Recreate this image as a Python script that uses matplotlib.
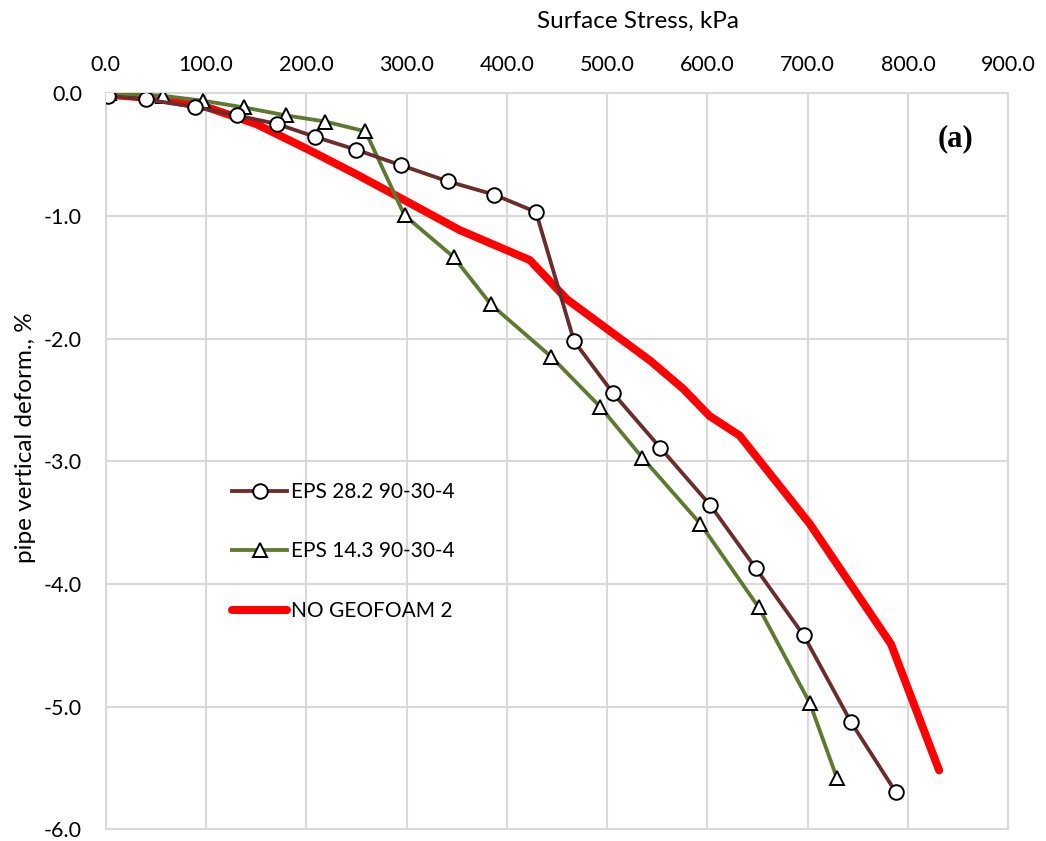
import matplotlib.pyplot as plt
import numpy as np

# EPS 28.2 90-30-4
x_eps28 = [2, 40, 89, 131, 171, 209, 250, 294, 341, 387, 429, 467, 506, 553, 603, 648, 696, 743, 788]
y_eps28 = [-0.02, -0.05, -0.11, -0.18, -0.25, -0.355, -0.46, -0.585, -0.717, -0.825, -0.967,
           -2.02, -2.446, -2.89, -3.36, -3.87, -4.42, -5.125, -5.70]

# EPS 14.3 90-30-4
x_eps14 = [3, 57, 97, 138, 180, 219, 259, 298, 347, 384, 444, 493, 535, 593, 651, 702, 729]
y_eps14 = [0.0, -0.02, -0.06, -0.115, -0.18, -0.23, -0.31, -0.995, -1.335, -1.72, -2.146,
           -2.555, -2.97, -3.51, -4.19, -4.97, -5.58]

# NO GEOFOAM 2
x_nogeo = [0, 50, 100, 150, 200, 250, 300, 353, 423, 460, 543, 576, 602, 632, 702, 783, 831]
y_nogeo = [-0.01, -0.04, -0.11, -0.25, -0.45, -0.66, -0.88, -1.115, -1.36, -1.68, -2.18,
           -2.41, -2.63, -2.79, -3.51, -4.49, -5.52]

plt.rcParams['font.family'] = ['Lato', 'DejaVu Sans']

fig = plt.figure(figsize=(10.46, 8.41), dpi=100)
ax = fig.add_axes([0.101, 0.014, 0.863, 0.875])

ax.plot(x_nogeo, y_nogeo, color='#ff0000', lw=5.75, solid_capstyle='round',
        label='NO GEOFOAM 2', zorder=2)
ax.plot(x_eps14, y_eps14, color='#5e7a32', lw=2.75, marker='^', ms=10.5, mfc='white',
        mec='black', mew=1.4, label='EPS 14.3 90-30-4', zorder=3)
ax.plot(x_eps28, y_eps28, color='#6b2d2b', lw=2.75, marker='o', ms=10.5, mfc='white',
        mec='black', mew=1.4, label='EPS 28.2 90-30-4', zorder=4)

ax.set_xlim(0, 900)
ax.set_ylim(-6, 0)
ax.set_xticks(np.arange(0, 901, 100))
ax.set_yticks(np.arange(-6, 0.1, 1))
ax.xaxis.set_major_formatter(plt.FormatStrFormatter('%.1f'))
ax.yaxis.set_major_formatter(plt.FormatStrFormatter('%.1f'))
ax.xaxis.tick_top()
ax.xaxis.set_label_position('top')
ax.tick_params(length=0, labelsize=15.5)
ax.tick_params(axis='x', pad=13)
ax.tick_params(axis='y', pad=17)
ax.grid(True, color='#d9d9d9', lw=1.5)
ax.set_axisbelow(True)
for s in ax.spines.values():
    s.set_color('#d9d9d9')
    s.set_linewidth(1.5)

ax.set_xlabel('Surface Stress, kPa', fontsize=17.5)
ax.xaxis.set_label_coords(0.59, 1.0887)
ax.set_ylabel('pipe vertical deform., %', fontsize=17.5)
ax.yaxis.set_label_coords(-0.077, 0.532)

ax.text(0.941, 0.939, '(a)', transform=ax.transAxes, fontsize=22, fontweight='bold',
        family='Liberation Serif', ha='center', va='center')

h, l = ax.get_legend_handles_labels()
ax.legend(h[::-1], l[::-1], loc='upper left', bbox_to_anchor=(0.14, 0.472),
          frameon=False, fontsize=15, handlelength=2.64, labelspacing=1.9,
          handletextpad=0.2, borderpad=0, borderaxespad=0)

fig.savefig('out.png', dpi=100)
